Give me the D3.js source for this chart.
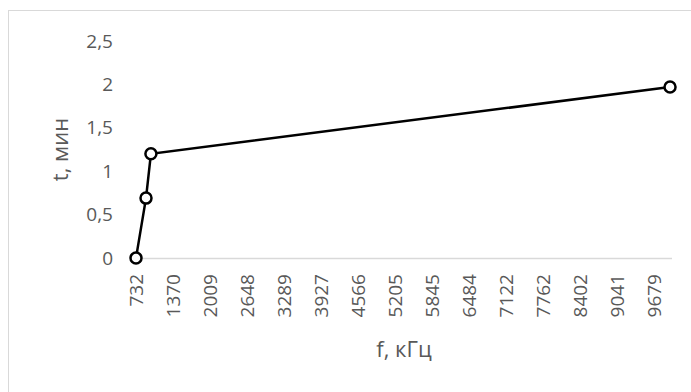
<!DOCTYPE html>
<html>
<head>
<meta charset="utf-8">
<script src="https://cdn.jsdelivr.net/npm/d3@7"></script>
<style>
  html, body { margin: 0; padding: 0; background: #fff; }
  svg { display: block; }
  text { font-family: "Open Sans", "Noto Sans", sans-serif; fill: #595959; }
</style>
</head>
<body>
<svg id="chart" width="691" height="392"></svg>
<script>
// Frequency (kHz) and time (min) measurements
const freq = [732, 905, 990, 9966];
const time = [0, 0.69, 1.2, 1.97];

// Axis tick labels
const xTicks = [732, 1370, 2009, 2648, 3289, 3927, 4566, 5205, 5845, 6484, 7122, 7762, 8402, 9041, 9679];
const yTicks = [0, 0.5, 1, 1.5, 2, 2.5];

const xTitle = "f, кГц";
const yTitle = "t, мин";

const svg = d3.select("#chart");

// chart frame
svg.append("rect")
  .attr("x", 8.5).attr("y", 10.5)
  .attr("width", 700).attr("height", 400)
  .attr("fill", "#fff")
  .attr("stroke", "#d9d9d9").attr("stroke-width", 1);

const x = d3.scaleLinear().domain([732, 10000]).range([136, 672]);
const y = d3.scaleLinear().domain([0, 2.5]).range([258, 41]);

const fmt = v => String(v).replace(".", ",");

// horizontal axis line at zero
svg.append("line")
  .attr("x1", x.range()[0]).attr("x2", x.range()[1])
  .attr("y1", y(0) + 0.5).attr("y2", y(0) + 0.5)
  .attr("stroke", "#d9d9d9").attr("stroke-width", 1.5);

// y axis labels
const yAxis = d3.axisLeft(y).tickValues(yTicks).tickFormat(fmt).tickSize(0).tickPadding(0);
const gy = svg.append("g").attr("transform", "translate(113,0)").call(yAxis);
gy.select(".domain").remove();
gy.selectAll("text").style("font-size", "19px").attr("fill", "#595959")
  .style("font-family", "'Open Sans', sans-serif");

// x axis labels, rotated
const xAxis = d3.axisBottom(x).tickValues(xTicks).tickFormat(d => d).tickSize(0).tickPadding(0);
const gx = svg.append("g").attr("transform", "translate(0,274)").call(xAxis);
gx.select(".domain").remove();
gx.selectAll("text")
  .style("font-size", "19px").attr("fill", "#595959")
  .style("font-family", "'Open Sans', sans-serif")
  .attr("text-anchor", "end")
  .attr("transform", "rotate(-90)")
  .attr("x", 0).attr("y", 0).attr("dy", "0.36em");

// axis titles
svg.append("text")
  .attr("x", (x.range()[0] + x.range()[1]) / 2).attr("y", 357)
  .attr("text-anchor", "middle")
  .style("font-size", "22px")
  .text(xTitle);

svg.append("text")
  .attr("transform", `translate(68,${(y(0) + y(2.5)) / 2}) rotate(-90)`)
  .attr("text-anchor", "middle")
  .style("font-size", "22px")
  .text(yTitle);

// series line and markers
const pts = freq.map((f, i) => ({ f, t: time[i] }));
svg.append("path")
  .datum(pts)
  .attr("fill", "none")
  .attr("stroke", "#000")
  .attr("stroke-width", 2.5)
  .attr("d", d3.line().x(d => x(d.f)).y(d => y(d.t)));

svg.selectAll("circle.pt")
  .data(pts)
  .join("circle")
  .attr("class", "pt")
  .attr("cx", d => x(d.f)).attr("cy", d => y(d.t))
  .attr("r", 5.5)
  .attr("fill", "#fff")
  .attr("stroke", "#000")
  .attr("stroke-width", 2.5);
</script>
</body>
</html>
